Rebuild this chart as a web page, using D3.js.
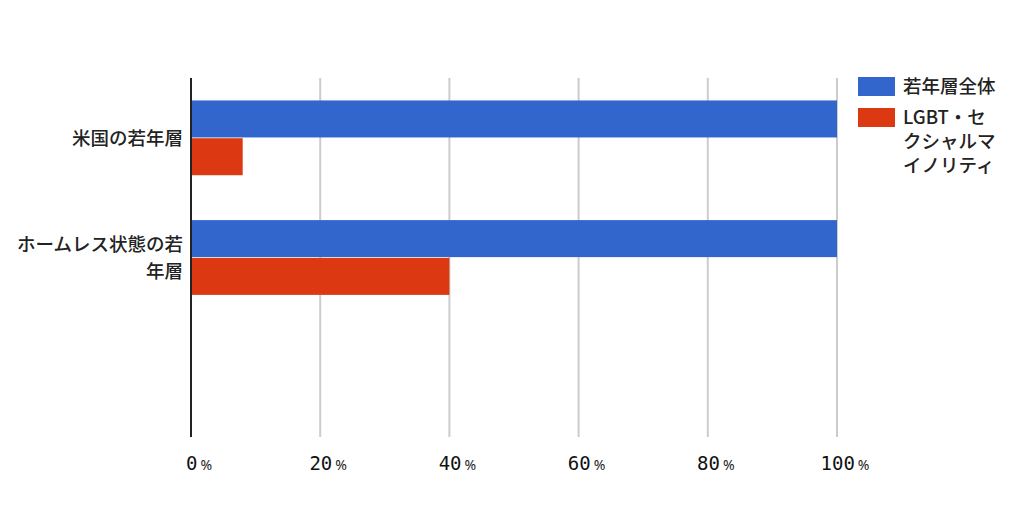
<!DOCTYPE html>
<html><head><meta charset="utf-8">
<script src="https://cdn.jsdelivr.net/npm/d3@7"></script>
<style>body{margin:0;background:#fff}</style>
</head><body>
<svg id="c" width="1024" height="528"></svg>
<script>
const categories = [["米国の若年層"], ["ホームレス状態の若", "年層"], [""]];
const categoryKeys = ["us", "homeless", "empty"];
const seriesNames = ["若年層全体", ["LGBT・セ", "クシャルマ", "イノリティ"]];
const allYouth = [100, 100, null];
const lgbt = [8, 40, null];
const ticks = [0, 20, 40, 60, 80, 100];
const colors = ["#3366cc", "#dc3912"];

const svg = d3.select("#c");
const m = {l: 191, r: 837, t: 78, b: 437};
const x = d3.scaleLinear().domain([0, 100]).range([m.l, m.r]);
const y = d3.scaleBand().domain(categoryKeys).range([m.t, m.b]).paddingInner(0.375).paddingOuter(0.1875);
const inner = d3.scaleBand().domain([0, 1]).range([0, y.bandwidth()]).paddingInner(0.02);

// gridlines
svg.append("g").selectAll("line").data(ticks.slice(1)).join("line")
  .attr("x1", d => x(d)).attr("x2", d => x(d)).attr("y1", m.t).attr("y2", m.b)
  .attr("stroke", "#cccccc").attr("stroke-width", 2);

const series = [allYouth, lgbt];
series.forEach((vals, si) => {
  svg.append("g").selectAll("rect").data(vals.map((v, i) => ({v, k: categoryKeys[i]})).filter(d => d.v != null)).join("rect")
    .attr("x", x(0)).attr("y", d => y(d.k) + inner(si))
    .attr("width", d => x(d.v) - x(0)).attr("height", inner.bandwidth())
    .attr("fill", colors[si]);
});

// axis line
svg.append("line").attr("x1", x(0)).attr("x2", x(0)).attr("y1", m.t).attr("y2", m.b)
  .attr("stroke", "#222").attr("stroke-width", 2);

// x tick labels
const tl = svg.append("g").selectAll("text").data(ticks).join("text")
  .attr("x", d => x(d) + 8).attr("y", 470).attr("text-anchor", "middle")
  .style("font-family", "'DejaVu Sans Mono', monospace").style("font-size", "19px").attr("fill", "#111");
tl.append("tspan").text(d => d);
tl.append("tspan").text("%").style("font-family", "'Noto Sans', sans-serif").style("font-size", "14px").attr("fill", "#222").attr("dx", 3);

// y labels
const fontCJK = "'Noto Sans CJK JP', sans-serif";
categories.forEach((lines, i) => {
  const cy = y(categoryKeys[i]) + y.bandwidth() / 2;
  const lh = 27;
  const t = svg.append("text").attr("text-anchor", "end")
    .style("font-family", fontCJK).style("font-size", "18.5px").style("font-weight", 500).attr("fill", "#222");
  lines.forEach((s, j) => {
    t.append("tspan").attr("x", 183).attr("y", cy - (lines.length - 1) * lh / 2 + j * lh + 7).text(s);
  });
});

// legend
const lg = svg.append("g");
const legendItems = seriesNames.map(n => Array.isArray(n) ? n : [n]);
let ly = 77;
legendItems.forEach((lines, i) => {
  lg.append("rect").attr("x", 858).attr("y", ly).attr("width", 37).attr("height", 19).attr("fill", colors[i]);
  const t = lg.append("text").style("font-family", fontCJK).style("font-size", "18.5px").style("font-weight", 500).attr("fill", "#222");
  lines.forEach((s, j) => {
    t.append("tspan").attr("x", 903).attr("y", ly + 16 + j * 24).text(s);
  });
  ly += 31;
});
</script>
</body></html>
